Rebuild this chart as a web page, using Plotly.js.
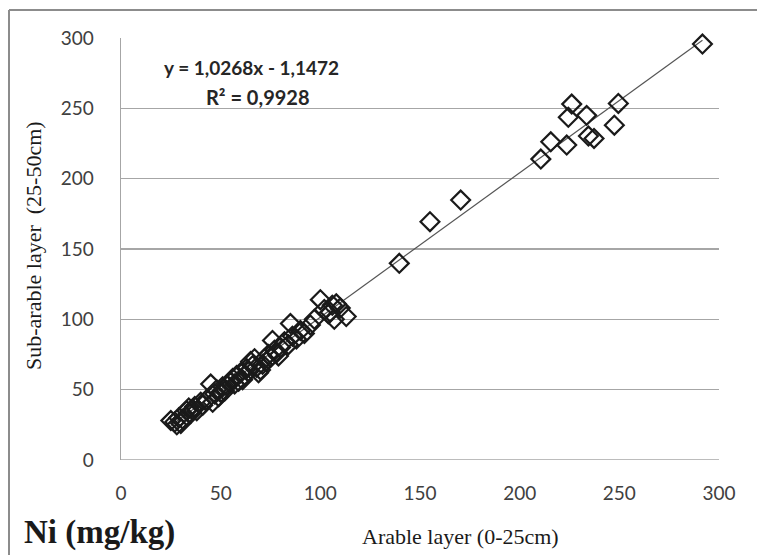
<!DOCTYPE html>
<html>
<head>
<meta charset="utf-8">
<script src="https://cdn.plot.ly/plotly-3.0.1.min.js"></script>
<style>
  html, body { margin: 0; padding: 0; background: #fff; }
  #chart { width: 757px; height: 555px; }
</style>
</head>
<body>
<div id="chart"></div>
<script>
// Arable layer (0-25cm) values, mg/kg
const arable = [25,27,28,29,30,31,33,34,35,36,37,38,40,41,43,45,46,47,48,49,50,51,52,53,55,56,57,58,59,60,61,62,63,64,65,66,67,68,69,70,71,72,73,74,75,76,77,78,79,80,82,84,85,86,88,90,92,95,97,100,102,104,105,106,107,108,110,113,139.6,155,170.4,210.6,215.6,223.6,224.4,226.1,233.6,234.5,237.3,247.5,249.5,291.7];
// Sub-arable layer (25-50cm) values, mg/kg
const subArable = [28,27,25,30,26,29,35,37,33,36,38,35,41,39,43,54,41,47,50,45,48,52,49,53,55,58,54,60,56,62,57,60,65,63,70,67,72,66,62,64,68,72,70,75,73,85,78,76,74,80,84,82,97,88,86,92,90,96,100,114,107,104,105,110,100,111,108,102,139.8,169.4,184.8,213.9,226.2,223.9,243.6,253,245,230.3,228.6,238,253.5,295.7];
// Trendline coefficients (as printed on the chart)
const slope = 1.0268;
const intercept = -1.1472;
const tickVals = [0, 50, 100, 150, 200, 250, 300];
const tickText = ["0", "50", "100", "150", "200", "250", "300"];

const xMin = Math.min(...arable), xMax = Math.max(...arable);
const trendX = [xMin, xMax];
const trendY = trendX.map(v => slope * v + intercept);

const traces = [
  {
    x: trendX, y: trendY, mode: 'lines', type: 'scatter',
    line: { color: '#555555', width: 1.2 }, hoverinfo: 'skip', cliponaxis: false
  },
  {
    x: arable, y: subArable, mode: 'markers', type: 'scatter',
    marker: { symbol: 'diamond-open', size: 14.5, color: '#1a1a1a', line: { width: 2.2, color: '#1a1a1a' } },
    cliponaxis: false
  }
];

const L = 121, R = 719, T = 38, B = 460;
const px = v => (v - L) / (R - L);
const py = v => (B - v) / (B - T);

const layout = {
  width: 757, height: 555,
  margin: { l: L, r: 757 - R, t: T, b: 555 - B, pad: 0 },
  paper_bgcolor: '#ffffff', plot_bgcolor: '#ffffff',
  showlegend: false,
  xaxis: {
    range: [0, 300], tickvals: tickVals, ticktext: tickText,
    showgrid: false, zeroline: false, showline: false,
    ticks: '', ticklabelstandoff: 20,
    tickfont: { family: 'Lato, sans-serif', size: 19, color: '#404040' },
    fixedrange: true
  },
  yaxis: {
    range: [0, 300], tickvals: tickVals, ticktext: tickText,
    showgrid: true, gridcolor: '#a6a6a6', gridwidth: 1.5,
    zeroline: false, showline: true, linecolor: '#a6a6a6', linewidth: 1.5,
    ticks: '', ticklabelstandoff: 22,
    tickfont: { family: 'Lato, sans-serif', size: 19, color: '#404040' },
    fixedrange: true
  },
  shapes: [
    { type: 'line', xref: 'paper', yref: 'paper', x0: px(9), x1: px(760), y0: py(10), y1: py(10),
      line: { color: '#8c8c8c', width: 2 } },
    { type: 'line', xref: 'paper', yref: 'paper', x0: px(9), x1: px(9), y0: py(10), y1: py(560),
      line: { color: '#8c8c8c', width: 2 } },
    { type: 'line', xref: 'paper', yref: 'y', x0: 0, x1: 1, y0: 0, y1: 0,
      line: { color: '#a6a6a6', width: 1.5 }, layer: 'below' }
  ],
  annotations: [
    { xref: 'paper', yref: 'paper', x: px(251), y: py(67), showarrow: false,
      text: '<b>y = 1,0268x - 1,1472</b>', xanchor: 'center', yanchor: 'middle',
      font: { family: 'Lato, sans-serif', size: 19, color: '#262626' } },
    { xref: 'paper', yref: 'paper', x: px(258), y: py(97), showarrow: false,
      text: '<b>R² = 0,9928</b>', xanchor: 'center', yanchor: 'middle',
      font: { family: 'Lato, sans-serif', size: 20, color: '#262626' } },
    { xref: 'paper', yref: 'paper', x: px(33), y: py(245), showarrow: false, textangle: -90,
      text: 'Sub-arable layer  (25-50cm)', xanchor: 'center', yanchor: 'middle',
      font: { family: 'Liberation Serif, Times New Roman, serif', size: 22, color: '#1a1a1a' } },
    { xref: 'paper', yref: 'paper', x: px(460), y: py(536), showarrow: false,
      text: 'Arable layer (0-25cm)', xanchor: 'center', yanchor: 'middle',
      font: { family: 'Liberation Serif, Times New Roman, serif', size: 22, color: '#1a1a1a' } },
    { xref: 'paper', yref: 'paper', x: px(22), y: py(532), showarrow: false,
      text: '<b>Ni (mg/kg)</b>', xanchor: 'left', yanchor: 'middle',
      font: { family: 'Liberation Serif, Times New Roman, serif', size: 33, color: '#1a1a1a' } }
  ]
};

Plotly.newPlot('chart', traces, layout, { displayModeBar: false, staticPlot: true });
</script>
</body>
</html>
